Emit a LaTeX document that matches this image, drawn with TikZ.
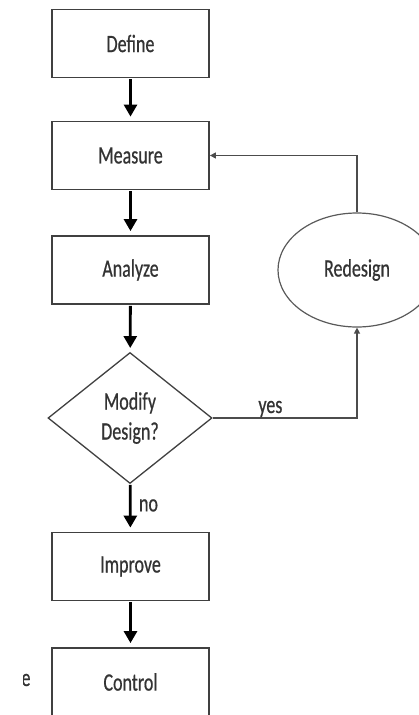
\documentclass[tikz,border=0pt]{standalone}
\usepackage{fontspec}
\setmainfont{Carlito}[FakeStretch=0.72,FakeBold=0.6]
\usetikzlibrary{shapes.geometric, arrows.meta}

\begin{document}
\begin{tikzpicture}[x=1pt,y=-1pt]

\tikzset{block/.style = {shape=rectangle,draw=black!75,line width=1.8pt,minimum width=157pt,minimum height=68pt,text=black!80,font=\fontsize{25}{28}\selectfont}}
\tikzset{decision/.style = {shape=diamond,draw=black!75,line width=1.3pt,minimum width=164pt,minimum height=131pt,inner sep=0pt,align=center,text=black!80,font=\fontsize{25}{30}\selectfont}}
\tikzset{bubble/.style = {shape=ellipse,draw=black!65,line width=1.2pt,minimum width=158pt,minimum height=114pt,text=black!80,font=\fontsize{25}{28}\selectfont}}
\tikzset{flow/.style = {-{Triangle[width=13pt,length=12pt]},line width=2.8pt,shorten >=4pt,shorten <=1pt}}
\tikzset{back/.style = {-{Triangle[width=6pt,length=6pt]},draw=black!70,line width=1.3pt}}
\tikzset{tag/.style = {text=black!80,font=\fontsize{25}{28}\selectfont}}

\useasboundingbox (0,0) rectangle (418,715);
%verticies
\node[block] (def) at (130.5,43.5) {Define};
\node[block] (meas) at (130.5,155.5) {Measure};
\node[block] (ana) at (130.5,270) {Analyze};
\node[decision] (mod) at (130,418) {Modify\\Design?};
\node[block] (imp) at (130.5,566.5) {Improve};
\node[block] (ctrl) at (130.5,682) {Control};
\node[bubble] (red) at (357,270) {Redesign};
\begin{scope}
\clip (23,660) rectangle (45,700);
\node[tag] (frag) at (26,680) {e};
\end{scope}
%edges
\draw [flow] (def) -- (meas);
\draw [flow] (meas) -- (ana);
\draw [flow] (ana) -- (mod);
\draw [flow] (mod) -- (imp) node [tag, pos=0.45, right=4pt] {no};
\draw [flow] (imp) -- (ctrl);
\draw [back] (mod.east) -| (red.south) node [tag, pos=0.2, above=-3pt] {yes};
\draw [back] (red.north) |- (meas.east);

\end{tikzpicture}
\end{document}
